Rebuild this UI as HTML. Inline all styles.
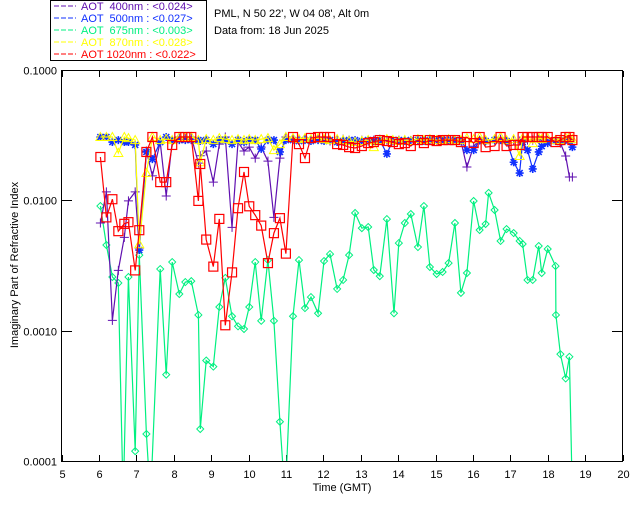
<!DOCTYPE html>
<html><head><meta charset="utf-8"><style>
body{margin:0;background:#fff;width:640px;height:512px;overflow:hidden}
svg{display:block;font-family:"Liberation Sans",sans-serif}
</style></head><body>
<svg id="chart" width="640" height="512" viewBox="0 0 640 512" xmlns="http://www.w3.org/2000/svg">
<rect x="0" y="0" width="640" height="512" fill="#fff"/>
<g>
<rect x="50.5" y="0.5" width="156" height="60" fill="none" stroke="#000" stroke-width="1"/>
</g>
<text x="214" y="17" font-size="11" fill="#000">PML, N 50 22', W 04 08', Alt 0m</text>
<text x="214" y="34" font-size="11" fill="#000">Data from: 18 Jun 2025</text>
<g id="axes"></g>
<g id="marks"></g>
<text x="342" y="491" font-size="11" text-anchor="middle" fill="#000">Time (GMT)</text>
<text transform="translate(18,265) rotate(-90)" font-size="11" text-anchor="middle" fill="#000">Imaginary Part of Refractive Index</text>
</svg>
<script>
const xTicks=[5,6,7,8,9,10,11,12,13,14,15,16,17,18,19,20];
const yTicks=[0.1,0.01,0.001,0.0001];
const yTickLabels=["0.1000","0.0100","0.0010","0.0001"];
const legendLabels=["AOT  400nm : <0.024>","AOT  500nm : <0.027>","AOT  675nm : <0.003>","AOT  870nm : <0.028>","AOT 1020nm : <0.022>"];
const times=[6.04,6.20,6.36,6.52,6.68,6.79,6.97,7.08,7.27,7.43,7.64,7.80,7.96,8.15,8.31,8.47,8.66,8.71,8.87,9.06,9.22,9.38,9.56,9.72,9.88,10.02,10.18,10.34,10.52,10.68,10.84,11.00,11.19,11.35,11.51,11.67,11.86,12.02,12.18,12.37,12.53,12.69,12.85,13.03,13.20,13.35,13.51,13.70,13.86,14.02,14.18,14.34,14.53,14.69,14.85,15.03,15.19,15.35,15.52,15.68,15.84,16.02,16.18,16.34,16.58,16.74,16.90,17.09,17.25,17.33,17.46,17.60,17.76,17.84,18.00,18.21,18.34,18.48,18.58,18.66];
const aot1020=[0.0215,0.0074,0.0102,0.0058,0.0066,0.0068,0.0029,0.0059,0.0235,0.0306,0.0138,0.0138,0.0266,0.0306,0.0306,0.0306,0.0099,0.0190,0.0050,0.0031,0.0072,0.0011,0.0028,0.0087,0.0165,0.0090,0.0077,0.0064,0.0033,0.0056,0.0073,0.0039,0.0306,0.0270,0.0211,0.0301,0.0306,0.0306,0.0306,0.0270,0.0266,0.0256,0.0252,0.0261,0.0275,0.0280,0.0290,0.0285,0.0280,0.0270,0.0275,0.0261,0.0290,0.0275,0.0290,0.0285,0.0290,0.0290,0.0290,0.0280,0.0306,0.0275,0.0306,0.0256,0.0261,0.0306,0.0261,0.0266,0.0266,0.0306,0.0306,0.0306,0.0306,0.0306,0.0306,0.0280,0.0290,0.0306,0.0306,0.0290];
const aot400=[0.0067,0.0116,0.0012,0.0029,0.0052,0.0099,0.0116,0.0043,0.0239,0.0154,0.0280,0.0108,0.0280,0.0306,0.0306,0.0306,0.0193,0.0220,0.0239,0.0138,0.0270,0.0306,0.0062,0.0280,0.0239,0.0256,0.0211,0.0256,0.0200,0.0074,0.0211,0.0306,0.0295,0.0290,0.0295,0.0290,0.0295,0.0290,0.0285,0.0290,0.0295,0.0290,0.0285,0.0290,0.0285,0.0290,0.0295,0.0290,0.0285,0.0290,0.0290,0.0285,0.0290,0.0290,0.0295,0.0290,0.0290,0.0290,0.0290,0.0285,0.0180,0.0260,0.0290,0.0285,0.0290,0.0295,0.0290,0.0290,0.0285,0.0290,0.0290,0.0290,0.0295,0.0290,0.0290,0.0290,0.0275,0.0219,0.0151,0.0151];
const aot500=[0.0306,0.0306,0.0280,0.0290,0.0280,0.0280,0.0266,0.00415,0.0235,0.0207,0.0280,0.0306,0.0290,0.0290,0.0290,0.0290,0.0290,0.0285,0.0290,0.0270,0.0290,0.0290,0.0270,0.0290,0.0280,0.0290,0.0290,0.0248,0.0290,0.0290,0.0235,0.0290,0.0290,0.0285,0.0290,0.0285,0.0290,0.0285,0.0290,0.0280,0.0285,0.0290,0.0290,0.0285,0.0290,0.0285,0.0290,0.0227,0.0290,0.0290,0.0285,0.0290,0.0290,0.0285,0.0290,0.0290,0.0290,0.0285,0.0290,0.0290,0.0243,0.0243,0.0290,0.0285,0.0290,0.0290,0.0285,0.0196,0.0162,0.0280,0.0243,0.0174,0.0235,0.0260,0.0275,0.0285,0.0280,0.0290,0.0290,0.0256];
const aot870=[0.0306,0.0306,0.0306,0.0231,0.0306,0.0300,0.0290,0.0046,0.0162,0.0306,0.0290,0.0295,0.0290,0.0306,0.0306,0.0306,0.0290,0.0196,0.0295,0.0290,0.0300,0.0295,0.0290,0.0295,0.0290,0.0295,0.0290,0.0295,0.0300,0.0243,0.0270,0.0306,0.0300,0.0295,0.0300,0.0295,0.0300,0.0295,0.0290,0.0295,0.0290,0.0285,0.0280,0.0285,0.0290,0.0256,0.0290,0.0295,0.0290,0.0285,0.0290,0.0285,0.0295,0.0290,0.0295,0.0290,0.0290,0.0295,0.0290,0.0290,0.0300,0.0295,0.0306,0.0290,0.0295,0.0306,0.0290,0.0295,0.0219,0.0300,0.0300,0.0275,0.0300,0.0295,0.0300,0.0290,0.0290,0.0300,0.0306,0.0295];
const timesGreen=[6.04,6.20,6.36,6.52,6.65,6.79,6.97,7.08,7.27,7.38,7.64,7.80,7.96,8.15,8.31,8.47,8.66,8.71,8.87,9.06,9.22,9.38,9.56,9.72,9.88,10.02,10.18,10.34,10.52,10.68,10.84,10.98,11.19,11.35,11.51,11.67,11.86,12.02,12.18,12.37,12.53,12.69,12.85,13.03,13.20,13.35,13.51,13.70,13.89,14.02,14.18,14.34,14.53,14.69,14.85,15.03,15.19,15.35,15.52,15.68,15.84,16.02,16.18,16.34,16.42,16.58,16.74,16.90,17.09,17.25,17.33,17.46,17.60,17.76,17.84,18.00,18.21,18.22,18.34,18.48,18.58,18.66];
const aot675=[0.00904,0.00454,0.00258,0.00232,0.00005,0.00258,0.000119,0.0038,0.000161,0.00005,0.00297,0.00046,0.00336,0.00191,0.00236,0.0024,0.00132,0.000176,0.00059,0.00053,0.00152,0.00254,0.00129,0.00108,0.00103,0.00152,0.00336,0.00119,0.00348,0.00119,0.0002,0.00005,0.00129,0.00348,0.00149,0.00181,0.00136,0.00342,0.00387,0.00209,0.00245,0.0038,0.0080,0.00612,0.00624,0.00292,0.00262,0.00718,0.00136,0.0047,0.0067,0.00785,0.00438,0.00904,0.00308,0.00272,0.00282,0.0033,0.0067,0.00195,0.00277,0.00988,0.00592,0.00658,0.0114,0.00843,0.00488,0.00602,0.00561,0.00488,0.00462,0.00245,0.00245,0.00446,0.00277,0.00423,0.00313,0.00132,0.00066,0.00043,0.00063,0.00005];

const X0=61.5,XS=37.4,YT=70,YB=461,DEC=130.33;
function sx(h){return X0+(h-5)*XS;}
function sy(v){return YT+(-1-Math.log10(v))*DEC;}
const NS="http://www.w3.org/2000/svg";
function mk(tag,attrs,parent){const e=document.createElementNS(NS,tag);for(const k in attrs)e.setAttribute(k,attrs[k]);parent.appendChild(e);return e;}
const axes=document.getElementById('axes'),marks=document.getElementById('marks'),svg=document.getElementById('chart');

const frame=mk('rect',{x:61.5,y:70.5,width:561,height:391,fill:'none',stroke:'#000','stroke-width':1},axes);


xTicks.forEach(h=>{
  const x=Math.round(sx(h))+0.5;
  const t1=mk('line',{x1:x,x2:x,y1:461,y2:455,stroke:'#000'},axes);
  
  
  const t2=mk('line',{x1:x,x2:x,y1:71,y2:77,stroke:'#000'},axes);
  
  
  const l=mk('text',{x:x,y:478,'font-size':11,'text-anchor':'middle',fill:'#000'},axes);
  l.textContent=String(h);
  
  
});
yTicks.forEach((v,i)=>{
  const y=Math.round(sy(v))+0.5;
  const t1=mk('line',{x1:62,x2:72,y1:y,y2:y,stroke:'#000'},axes);
  
  
  const t2=mk('line',{x1:612,x2:622,y1:y,y2:y,stroke:'#000'},axes);
  
  
  const l=mk('text',{x:57,y:y+4,'font-size':11,'text-anchor':'end',fill:'#000'},axes);
  l.textContent=yTickLabels[i];
  
  
});

const clip=mk('clipPath',{id:'pc'},svg);
mk('rect',{x:62,y:71,width:560,height:390},clip);
marks.setAttribute('clip-path','url(#pc)');

function marker(type,x,y,c,g){
  let e;
  if(type==='plus') e=mk('path',{d:`M${x-4.5},${y}H${x+4.5}M${x},${y-4.5}V${y+4.5}`,stroke:c,fill:'none'},g);
  else if(type==='star') e=mk('path',{d:`M${x-4},${y}H${x+4}M${x},${y-4}V${y+4}M${x-3},${y-3}L${x+3},${y+3}M${x-3},${y+3}L${x+3},${y-3}`,stroke:c,'stroke-width':1.6,fill:'none'},g);
  else if(type==='diamond') e=mk('path',{d:`M${x},${y-3.5}L${x+3.5},${y}L${x},${y+3.5}L${x-3.5},${y}Z`,stroke:c,fill:'none'},g);
  else if(type==='tri') e=mk('path',{d:`M${x},${y-4.5}L${x+4.5},${y+3.5}L${x-4.5},${y+3.5}Z`,stroke:c,fill:'none'},g);
  else e=mk('rect',{x:x-4.5,y:y-4.5,width:9,height:9,stroke:c,fill:'none','stroke-width':1.2},g);
  return e;
}
const series=[
 {name:'aot-675',t:timesGreen,v:aot675,c:'#00f080',m:'diamond'},
 {name:'aot-400',t:times,v:aot400,c:'#6010b0',m:'plus'},
 {name:'aot-500',t:times,v:aot500,c:'#1030ff',m:'star'},
 {name:'aot-870',t:times,v:aot870,c:'#ffff00',m:'tri'},
 {name:'aot-1020',t:times,v:aot1020,c:'#ff0000',m:'square'}
];
series.forEach(s=>{
  const g=mk('g',{},marks);
  
  
  const pts=s.t.map((h,i)=>sx(h).toFixed(1)+','+sy(s.v[i]).toFixed(1)).join(' ');
  const pl=mk('polyline',{points:pts,fill:'none',stroke:s.c,'stroke-width':1.2},g);
  
  
  s.t.forEach((h,i)=>{
    const m=marker(s.m,sx(h),sy(s.v[i]),s.c,g);
    
    
  });
});

const legCols=['#6010b0','#1030ff','#00f080','#ffff00','#ff0000'];
const legY=[10,22,34,46,58];
legendLabels.forEach((lab,i)=>{
  const y=legY[i];
  const ln=mk('line',{x1:54,x2:76,y1:y-4,y2:y-4,stroke:legCols[i],'stroke-dasharray':'5,2'},svg);
  
  
  const t=mk('text',{x:81,y:y,'font-size':11,fill:legCols[i],'xml:space':'preserve'},svg);
  t.textContent=lab;
  t.style.whiteSpace='pre';
  
  
});
</script>
</body></html>
